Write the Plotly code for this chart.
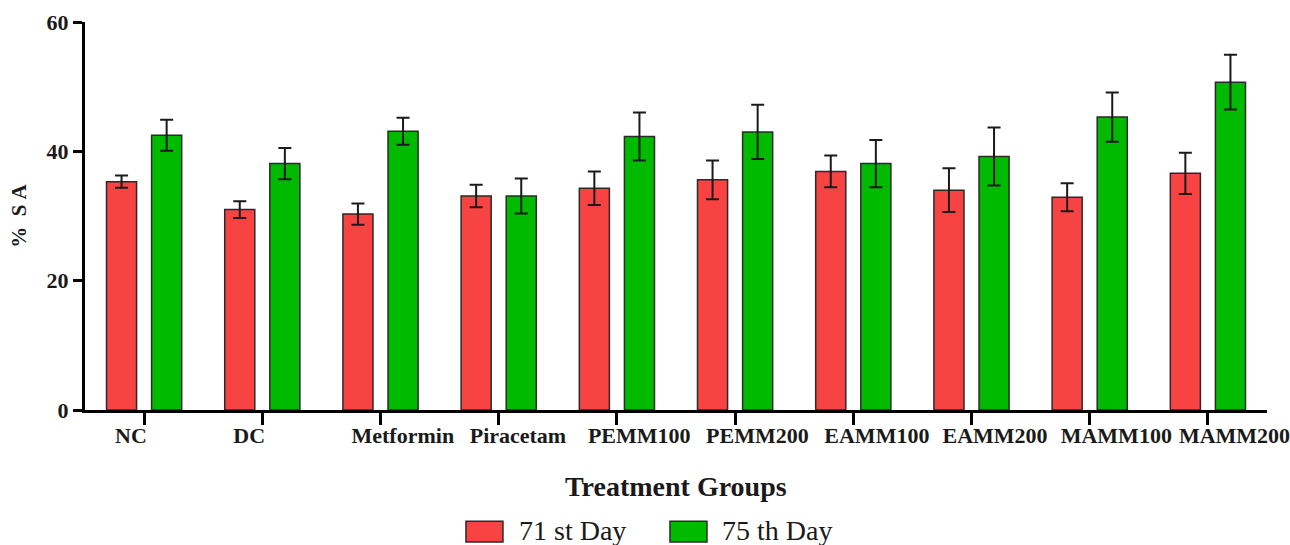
import plotly.graph_objects as go

groups = ["NC", "DC", "Metformin", "Piracetam", "PEMM100", "PEMM200",
          "EAMM100", "EAMM200", "MAMM100", "MAMM200"]
day71 = [35.3, 31.0, 30.3, 33.1, 34.3, 35.6, 36.9, 34.0, 32.9, 36.6]
day71_err = [0.95, 1.3, 1.65, 1.75, 2.6, 3.0, 2.45, 3.4, 2.15, 3.2]
day75 = [42.5, 38.1, 43.1, 33.1, 42.3, 43.0, 38.1, 39.2, 45.3, 50.7]
day75_err = [2.4, 2.4, 2.1, 2.7, 3.7, 4.2, 3.65, 4.5, 3.8, 4.25]
y_ticks = [0, 20, 40, 60]

RED = "#F84343"
GREEN = "#00BA00"
SERIF = "Liberation Serif"
INK = "#1a1a1a"

fig = go.Figure()
for name, vals, errs, col in [("71 st Day", day71, day71_err, RED),
                              ("75 th Day", day75, day75_err, GREEN)]:
    fig.add_trace(go.Bar(
        x=groups, y=vals, name=name, showlegend=False,
        marker=dict(color=col, line=dict(color="#2a2a2a", width=1.5)),
        error_y=dict(type="data", array=errs, visible=True,
                     color=INK, thickness=2, width=6.5),
    ))

fig.update_layout(
    width=1290, height=545,
    margin=dict(l=85, r=23, t=22, b=135, autoexpand=False),
    paper_bgcolor="white", plot_bgcolor="white",
    barmode="group", bargap=0.237, bargroupgap=0.333,
    font=dict(family=SERIF, color=INK),
)
fig.update_xaxes(
    range=[-0.5, 9.5], showline=True, linecolor="black", linewidth=3,
    ticks="outside", ticklen=12, tickwidth=3, tickcolor="black",
    tickangle=0, showgrid=False, zeroline=False, automargin=False,
    ticklabelposition="outside right", ticklabelshift=-32,
    ticklabelstandoff=4,
    tickfont=dict(family=SERIF, size=22, color=INK, weight="bold"),
)
fig.update_yaxes(
    range=[0, 60], tickvals=y_ticks, showline=True, linecolor="black",
    linewidth=3, ticks="outside", ticklen=9, tickwidth=3, tickcolor="black",
    showgrid=False, zeroline=False, automargin=False,
    tickfont=dict(family=SERIF, size=22, color=INK, weight="bold"),
)

annotations = [
    dict(text="<b>Treatment Groups</b>", x=0.5, y=-0.196, xref="paper",
         yref="paper", xanchor="center", yanchor="middle", showarrow=False,
         font=dict(family=SERIF, size=28, color=INK)),
    dict(text="<b>%\u00a0\u00a0S\u00a0A</b>", x=-0.056, y=0.50, xref="paper",
         yref="paper", xanchor="center", yanchor="middle", showarrow=False,
         textangle=-90, font=dict(family=SERIF, size=21, color=INK)),
]

# custom legend: wide swatches with labels below the axis title
legend_items = [("71 st Day", RED, 0.3223, 0.3536, 0.3655),
                ("75 th Day", GREEN, 0.4949, 0.5262, 0.5372)]
shapes = []
for label, col, x0, x1, xt in legend_items:
    shapes.append(dict(type="rect", xref="paper", yref="paper",
                       x0=x0, x1=x1, y0=-0.340, y1=-0.287,
                       fillcolor=col, line=dict(color="#2a2a2a", width=1.5)))
    annotations.append(dict(text=label, x=xt, y=-0.311, xref="paper",
                            yref="paper", xanchor="left", yanchor="middle",
                            showarrow=False,
                            font=dict(family=SERIF, size=28, color=INK)))

fig.update_layout(annotations=annotations, shapes=shapes)
fig.write_html("out.html")
